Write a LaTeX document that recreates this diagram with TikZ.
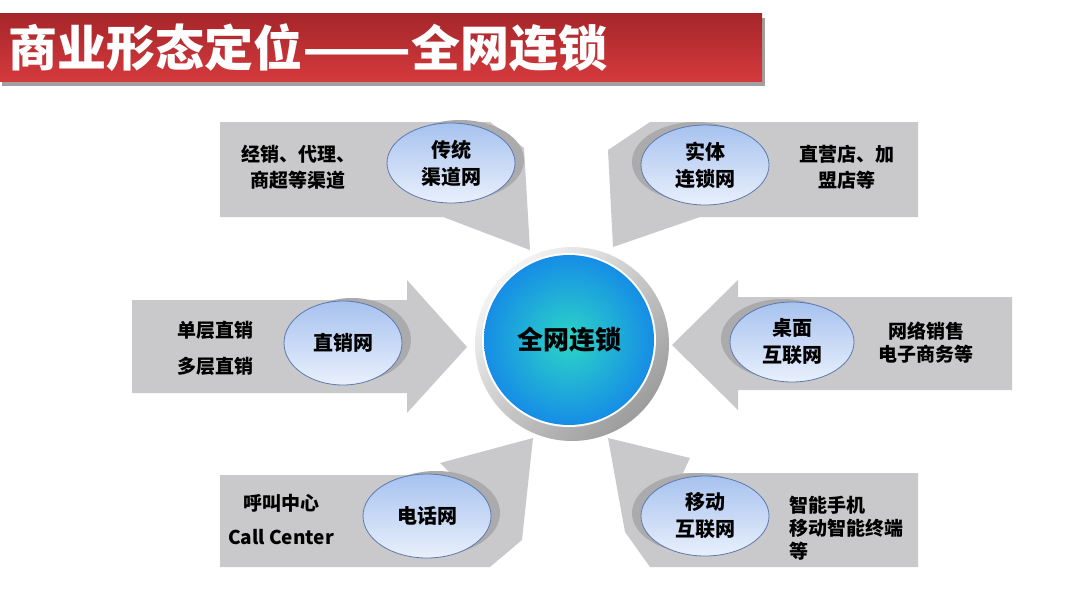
\documentclass[tikz,border=0pt]{standalone}
\usepackage{fontspec}
\setmainfont{Noto Sans CJK SC}
\usetikzlibrary{shapes.geometric,shadows}
\definecolor{titletop}{HTML}{A5262A}
\definecolor{titlebot}{HTML}{D53A3D}
\definecolor{bar}{HTML}{A0A0A0}
\definecolor{plate}{HTML}{C9C9CB}
\definecolor{nettop}{HTML}{A7C2EF}
\definecolor{netbot}{HTML}{E9F0FC}
\definecolor{netline}{HTML}{5B79AE}
\definecolor{hubin}{HTML}{2CD6C6}
\definecolor{hubout}{HTML}{168DE6}
\definecolor{rimlight}{HTML}{F4F4F4}
\definecolor{rimdark}{HTML}{9C9C9C}
\definecolor{lift}{HTML}{ABABAD}
\tikzset{
  plate/.style={fill=plate},
  net/.style={ellipse, draw=netline, line width=0.8pt, top color=nettop, bottom color=netbot,
    minimum width=128pt, minimum height=80pt, inner sep=0pt, align=center,
    font=\bfseries\fontsize{20}{27}\selectfont},
  liftr/.style={general shadow={fill=lift, shadow xshift=9pt, shadow yshift=3pt}},
  liftl/.style={general shadow={fill=lift, shadow xshift=-9pt, shadow yshift=3pt}},
  lab/.style={align=center, font=\bfseries\fontsize{19}{26}\selectfont},
  hub/.style={circle, minimum size=170pt, inner sep=0pt, inner color=hubin, outer color=hubout,
    font=\bfseries\fontsize{26}{30}\selectfont},
}
\begin{document}
\begin{tikzpicture}[x=1pt,y=-1pt]
  \useasboundingbox (0,0) rectangle (1080,602);

  \fill[bar] (2,18) rectangle (765,86);
  \shade[top color=titletop, bottom color=titlebot] (0,14) rectangle (762,82);
  \node[anchor=west, text=white, font=\bfseries\fontsize{49}{52}\selectfont] (title) at (5,48) {商业形态定位\scalebox{1.3}[1]{——}全网连锁};

  \fill[plate] (220,122) -- (490,122) -- (524,148) -- (530,250) -- (443,217) -- (220,217) -- cycle;
  \fill[plate] (918,122) -- (918,217) -- (700,217) -- (613,247) -- (608,150) -- (650,122) -- cycle;
  \fill[plate] (132,300) -- (407,300) -- (407,280) -- (467,347) -- (407,413) -- (407,393) -- (132,393) -- cycle;
  \fill[plate] (1012,297) -- (738,297) -- (738,280) -- (672,345) -- (738,410) -- (738,390) -- (1012,390) -- cycle;
  \fill[plate] (220,475) -- (452,475) -- (440,463) -- (533,438) -- (522,540) -- (490,567) -- (220,567) -- cycle;
  \fill[plate] (918,473) -- (918,567) -- (650,567) -- (625,532) -- (608,438) -- (690,458) -- (683,473) -- cycle;

  \shade[top color=rimlight, bottom color=rimdark, shading angle=45] (572,344) circle [radius=97pt];
  \fill[white] (569,340) circle [radius=87pt];
  \node[hub] (core) at (569,340) {全网连锁};

  \node[net, liftr] (trad) at (451,163) {传统\\渠道网};
  \node[net, liftl] (chain) at (705,165) {实体\\连锁网};
  \node[net, liftr, minimum width=118pt, minimum height=84pt] (direct) at (343,343) {直销网};
  \node[net, liftl, minimum width=124pt] (desk) at (792,342) {桌面\\互联网};
  \node[net, liftr, minimum height=84pt] (phone) at (427,516) {电话网};
  \node[net, liftl] (mobile) at (705,516) {移动\\互联网};

  \node[lab] (tradtxt) at (298,167) {经销、代理、\\商超等渠道};
  \node[lab] (chaintxt) at (847,167) {直营店、加\\盟店等};
  \node[lab] (directtxt) at (215,348) {单层直销\\[10pt]多层直销};
  \node[lab] (desktxt) at (926,343) {网络销售\\[-3pt]电子商务等};
  \node[lab] (phonetxt) at (281,520) {呼叫中心\\[8pt]Call Center};
  \node[lab, align=left, anchor=west] (mobiletxt) at (786,528) {智能手机\\[-3pt]移动智能终端\\[-3pt]等};
\end{tikzpicture}
\end{document}
